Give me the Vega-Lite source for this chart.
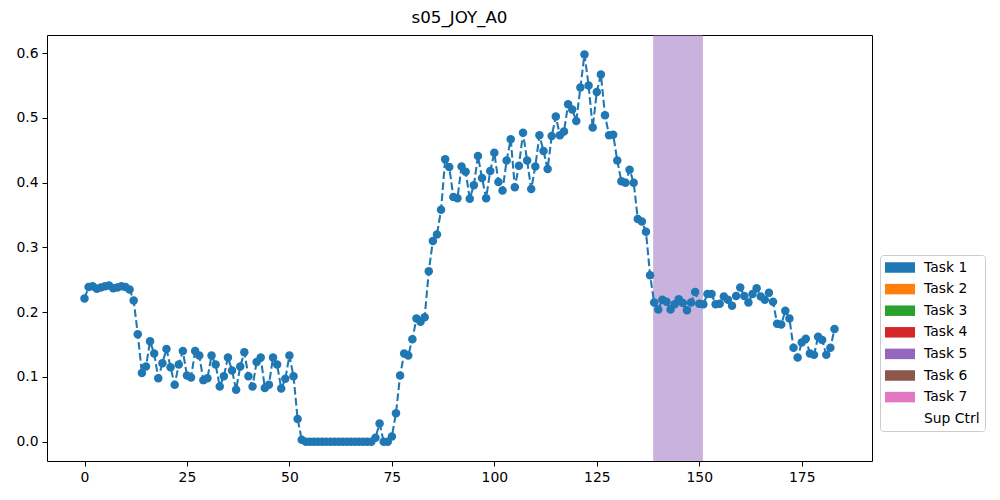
{
  "$schema": "https://vega.github.io/schema/vega-lite/v6.json",
  "width": 825,
  "height": 426,
  "autosize": {"type": "none"},
  "padding": {"left": 47, "top": 35, "right": 128, "bottom": 39},
  "config": {
    "font": "DejaVu Sans",
    "view": {"stroke": "black", "strokeWidth": 1},
    "axis": {"domain": false, "grid": false, "tickColor": "black", "tickSize": 5, "labelColor": "black", "labelFontSize": 13.9, "labelFont": "DejaVu Sans", "labelPadding": 4}
  },
  "title": {"text": "s05_JOY_A0", "fontSize": 16.7, "fontWeight": "normal", "font": "DejaVu Sans", "color": "black", "offset": 8},
  "datasets": {
    "series": [
      {"x":0,"y":0.221},{"x":1,"y":0.239},{"x":2,"y":0.240},{"x":3,"y":0.236},{"x":4,"y":0.238},{"x":5,"y":0.240},{"x":6,"y":0.241},{"x":7,"y":0.237},{"x":8,"y":0.238},{"x":9,"y":0.240},
      {"x":10,"y":0.239},{"x":11,"y":0.235},{"x":12,"y":0.218},{"x":13,"y":0.166},{"x":14,"y":0.106},{"x":15,"y":0.116},{"x":16,"y":0.155},{"x":17,"y":0.136},{"x":18,"y":0.098},{"x":19,"y":0.121},
      {"x":20,"y":0.143},{"x":21,"y":0.115},{"x":22,"y":0.088},{"x":23,"y":0.119},{"x":24,"y":0.140},{"x":25,"y":0.102},{"x":26,"y":0.099},{"x":27,"y":0.140},{"x":28,"y":0.133},{"x":29,"y":0.095},
      {"x":30,"y":0.098},{"x":31,"y":0.133},{"x":32,"y":0.119},{"x":33,"y":0.085},{"x":34,"y":0.101},{"x":35,"y":0.130},{"x":36,"y":0.110},{"x":37,"y":0.080},{"x":38,"y":0.116},{"x":39,"y":0.138},
      {"x":40,"y":0.101},{"x":41,"y":0.085},{"x":42,"y":0.123},{"x":43,"y":0.130},{"x":44,"y":0.083},{"x":45,"y":0.088},{"x":46,"y":0.130},{"x":47,"y":0.119},{"x":48,"y":0.082},{"x":49,"y":0.097},
      {"x":50,"y":0.133},{"x":51,"y":0.101},{"x":52,"y":0.035},{"x":53,"y":0.003},{"x":54,"y":0.0},{"x":55,"y":0.0},{"x":56,"y":0.0},{"x":57,"y":0.0},{"x":58,"y":0.0},{"x":59,"y":0.0},
      {"x":60,"y":0.0},{"x":61,"y":0.0},{"x":62,"y":0.0},{"x":63,"y":0.0},{"x":64,"y":0.0},{"x":65,"y":0.0},{"x":66,"y":0.0},{"x":67,"y":0.0},{"x":68,"y":0.0},{"x":69,"y":0.0},
      {"x":70,"y":0.0},{"x":71,"y":0.006},{"x":72,"y":0.028},{"x":73,"y":0.0},{"x":74,"y":0.0},{"x":75,"y":0.008},{"x":76,"y":0.044},{"x":77,"y":0.102},{"x":78,"y":0.136},{"x":79,"y":0.133},
      {"x":80,"y":0.158},{"x":81,"y":0.190},{"x":82,"y":0.185},{"x":83,"y":0.192},{"x":84,"y":0.263},{"x":85,"y":0.310},{"x":86,"y":0.320},{"x":87,"y":0.358},{"x":88,"y":0.436},{"x":89,"y":0.424},
      {"x":90,"y":0.378},{"x":91,"y":0.376},{"x":92,"y":0.425},{"x":93,"y":0.417},{"x":94,"y":0.375},{"x":95,"y":0.396},{"x":96,"y":0.441},{"x":97,"y":0.407},{"x":98,"y":0.376},{"x":99,"y":0.418},
      {"x":100,"y":0.446},{"x":101,"y":0.401},{"x":102,"y":0.388},{"x":103,"y":0.434},{"x":104,"y":0.467},{"x":105,"y":0.393},{"x":106,"y":0.426},{"x":107,"y":0.477},{"x":108,"y":0.434},{"x":109,"y":0.390},
      {"x":110,"y":0.425},{"x":111,"y":0.473},{"x":112,"y":0.449},{"x":113,"y":0.421},{"x":114,"y":0.472},{"x":115,"y":0.502},{"x":116,"y":0.473},{"x":117,"y":0.479},{"x":118,"y":0.521},{"x":119,"y":0.513},
      {"x":120,"y":0.495},{"x":121,"y":0.547},{"x":122,"y":0.598},{"x":123,"y":0.550},{"x":124,"y":0.485},{"x":125,"y":0.540},{"x":126,"y":0.567},{"x":127,"y":0.504},{"x":128,"y":0.473},{"x":129,"y":0.474},
      {"x":130,"y":0.434},{"x":131,"y":0.402},{"x":132,"y":0.400},{"x":133,"y":0.420},{"x":134,"y":0.400},{"x":135,"y":0.344},{"x":136,"y":0.340},{"x":137,"y":0.324},{"x":138,"y":0.257},{"x":139,"y":0.215},
      {"x":140,"y":0.204},{"x":141,"y":0.219},{"x":142,"y":0.216},{"x":143,"y":0.204},{"x":144,"y":0.212},{"x":145,"y":0.220},{"x":146,"y":0.214},{"x":147,"y":0.203},{"x":148,"y":0.215},{"x":149,"y":0.231},
      {"x":150,"y":0.213},{"x":151,"y":0.212},{"x":152,"y":0.228},{"x":153,"y":0.228},{"x":154,"y":0.212},{"x":155,"y":0.213},{"x":156,"y":0.224},{"x":157,"y":0.219},{"x":158,"y":0.210},{"x":159,"y":0.225},
      {"x":160,"y":0.238},{"x":161,"y":0.225},{"x":162,"y":0.215},{"x":163,"y":0.228},{"x":164,"y":0.237},{"x":165,"y":0.224},{"x":166,"y":0.219},{"x":167,"y":0.230},{"x":168,"y":0.216},{"x":169,"y":0.182},
      {"x":170,"y":0.181},{"x":171,"y":0.202},{"x":172,"y":0.190},{"x":173,"y":0.145},{"x":174,"y":0.130},{"x":175,"y":0.153},{"x":176,"y":0.159},{"x":177,"y":0.136},{"x":178,"y":0.134},{"x":179,"y":0.162},
      {"x":180,"y":0.157},{"x":181,"y":0.134},{"x":182,"y":0.145},{"x":183,"y":0.174}
    ],
    "bands": [
      {"task": "Task 5", "start": 138.75, "end": 150.9}
    ]
  },
  "layer": [
    {
      "data": {"name": "bands"},
      "mark": {"type": "rect", "opacity": 0.5},
      "encoding": {
        "x": {"field": "start", "type": "quantitative", "scale": {"domain": [-9.15, 192.15], "nice": false, "zero": false}, "axis": {"values": [0, 25, 50, 75, 100, 125, 150, 175], "title": null}},
        "x2": {"field": "end"},
        "y": {"datum": -0.0299, "type": "quantitative", "scale": {"domain": [-0.0299, 0.628], "nice": false, "zero": false}, "axis": {"values": [0, 0.1, 0.2, 0.3, 0.4, 0.5, 0.6], "format": ".1f", "title": null}},
        "y2": {"datum": 0.628},
        "color": {
          "field": "task", "type": "nominal",
          "scale": {"domain": ["Task 1", "Task 2", "Task 3", "Task 4", "Task 5", "Task 6", "Task 7", "Sup Ctrl"], "range": ["#1f77b4", "#ff7f0e", "#2ca02c", "#d62728", "#9467bd", "#8c564b", "#e377c2", "#ffffff"]},
          "legend": {
            "title": null, "orient": "none", "legendX": 833, "legendY": 220,
            "symbolType": "M-1,-0.7H3V0.7H-1Z", "symbolSize": 225, "symbolStrokeWidth": 0, "symbolOpacity": 1,
            "labelOffset": 24, "labelFontSize": 13.9, "labelFont": "DejaVu Sans", "labelColor": "black",
            "rowPadding": 6.6, "padding": 5, "strokeColor": "#cccccc", "fillColor": "white", "cornerRadius": 3
          }
        }
      }
    },
    {
      "data": {"name": "series"},
      "mark": {"type": "line", "color": "#1f77b4", "strokeWidth": 2.08, "strokeDash": [7.7, 3.3]},
      "encoding": {
        "x": {"field": "x", "type": "quantitative"},
        "y": {"field": "y", "type": "quantitative"}
      }
    },
    {
      "data": {"name": "series"},
      "mark": {"type": "point", "filled": true, "color": "#1f77b4", "opacity": 1, "size": 72},
      "encoding": {
        "x": {"field": "x", "type": "quantitative"},
        "y": {"field": "y", "type": "quantitative"}
      }
    }
  ]
}
